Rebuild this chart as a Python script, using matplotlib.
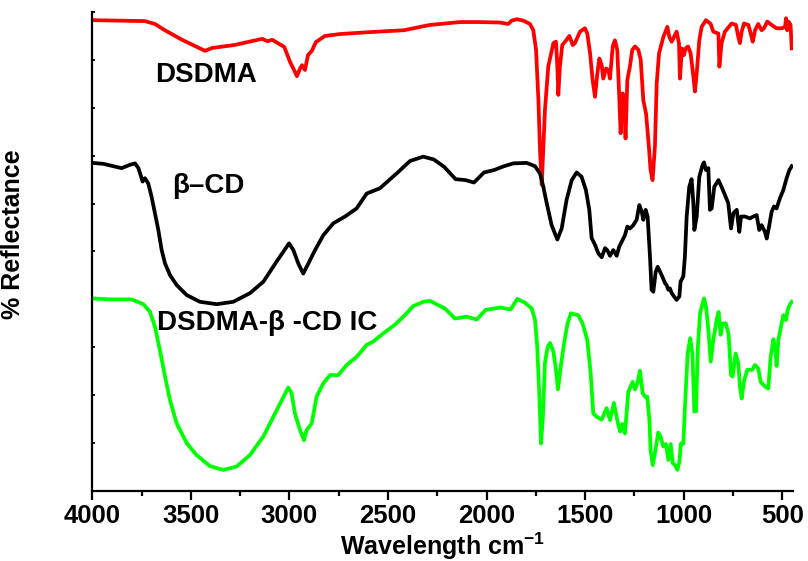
import numpy as np
import matplotlib
matplotlib.use("Agg")
import matplotlib.pyplot as plt
from matplotlib.ticker import MultipleLocator, NullFormatter

plt.rcParams['font.family'] = ['Liberation Sans', 'DejaVu Sans']
plt.rcParams['font.weight'] = 'bold'
plt.rcParams['mathtext.fontset'] = 'custom'
plt.rcParams['mathtext.rm'] = 'Liberation Sans:bold'
plt.rcParams['mathtext.bf'] = 'Liberation Sans:bold'
plt.rcParams['mathtext.default'] = 'bf'

# FTIR spectra: wavenumber (cm-1) and reflectance (arbitrary %, offset per sample)
wn_dsdma = [4000, 3733, 3682, 3632, 3540, 3428, 3391, 3280, 3138, 3112, 3087, 3026,
            2997, 2972, 2962, 2947, 2936, 2921, 2906, 2886, 2866, 2820, 2744, 2592,
            2419, 2287, 2135, 2034, 1932, 1890, 1873, 1847, 1813, 1780, 1763, 1749,
            1737, 1729, 1720, 1704, 1687, 1661, 1648, 1641, 1636, 1628, 1616, 1594,
            1580, 1563, 1552, 1526, 1501, 1489, 1475, 1462, 1450, 1438, 1428, 1416,
            1408, 1394, 1382, 1374, 1360, 1349, 1337, 1327, 1320, 1310, 1303, 1295,
            1286, 1273, 1261, 1247, 1230, 1218, 1205, 1191, 1178, 1168, 1158, 1146,
            1137, 1125, 1103, 1083, 1073, 1061, 1049, 1036, 1024, 1019, 1009, 999,
            990, 978, 965, 951, 943, 934, 921, 909, 887, 863, 850, 824, 819, 808,
            791, 757, 735, 723, 715, 706, 694, 672, 660, 650, 638, 622, 605, 593,
            576, 554, 529, 503, 486, 481, 475, 468, 458, 452]
r_dsdma = [98.3, 98.1, 97.5, 96.2, 94.1, 91.9, 92.5, 93.1, 94.4, 93.9, 94.2, 92.7,
           89.6, 87.5, 86.6, 88.1, 88.9, 87.9, 91.0, 91.9, 93.7, 95.0, 95.4, 95.8,
           96.2, 97.3, 97.9, 97.9, 97.8, 97.5, 98.2, 98.5, 98.2, 97.5, 96.2, 92.1,
           81.6, 71.2, 63.9, 79.5, 88.6, 93.5, 93.8, 88.6, 82.7, 88.6, 93.1, 94.2,
           95.0, 93.1, 93.5, 95.9, 96.6, 95.5, 91.4, 85.8, 82.3, 87.2, 90.3, 88.9,
           86.1, 88.2, 87.9, 86.1, 92.8, 94.1, 92.1, 82.3, 74.7, 83.0, 82.3, 73.6,
           85.8, 88.6, 92.1, 92.8, 92.1, 90.0, 81.6, 78.8, 72.6, 67.0, 64.9, 71.9,
           85.1, 91.4, 94.8, 96.9, 94.8, 93.8, 94.8, 95.9, 93.5, 86.1, 92.4, 91.0,
           92.4, 92.8, 91.4, 86.5, 83.4, 87.2, 94.1, 96.9, 98.3, 97.5, 95.9, 95.5, 88.6, 93.5,
           95.9, 97.6, 97.3, 94.8, 93.5, 95.9, 97.6, 97.3, 95.5, 93.8, 96.2, 97.5, 96.2, 96.6,
           98.0, 97.3, 96.6, 96.6, 96.9, 98.7, 96.2, 98.0, 97.3, 92.4]

wn_bcd = [3998, 3944, 3893, 3851, 3809, 3783, 3766, 3755, 3745, 3733, 3716, 3699,
          3682, 3665, 3648, 3631, 3606, 3572, 3521, 3454, 3369, 3285, 3200, 3132,
          3065, 3002, 2980, 2955, 2930, 2904, 2870, 2828, 2777, 2718, 2659, 2608,
          2541, 2456, 2388, 2321, 2267, 2216, 2157, 2106, 2064, 2013, 1962, 1912,
          1864, 1797, 1754, 1729, 1712, 1695, 1670, 1641, 1619, 1594, 1568, 1543,
          1518, 1496, 1479, 1467, 1450, 1433, 1416, 1399, 1388, 1374, 1357, 1340,
          1327, 1310, 1298, 1286, 1273, 1256, 1239, 1225, 1213, 1205, 1193, 1183,
          1171, 1163, 1154, 1142, 1132, 1120, 1109, 1095, 1087, 1078, 1070, 1061,
          1049, 1036, 1022, 1016, 1002, 994, 985, 972, 960, 951, 946, 934, 921,
          904, 897, 887, 875, 867, 858, 845, 824, 808, 791, 774, 760, 748, 731,
          718, 709, 689, 664, 647, 630, 617, 605, 588, 579, 567, 554, 542, 529,
          512, 495, 478, 464, 452]
r_bcd = [68.5, 68.3, 67.8, 67.4, 68.1, 68.4, 67.4, 66.0, 64.6, 65.3, 64.2, 61.4,
         58.0, 54.5, 50.3, 47.5, 45.1, 43.0, 40.9, 39.5, 39.0, 39.5, 41.3, 43.7,
         47.9, 51.7, 50.3, 47.5, 45.4, 47.5, 50.3, 53.4, 55.9, 57.3, 59.0, 62.1,
         63.2, 66.3, 68.9, 69.8, 69.2, 67.7, 65.1, 64.9, 64.4, 66.5, 67.0, 67.8,
         68.4, 68.5, 67.8, 66.3, 63.5, 60.1, 55.5, 52.5, 54.8, 60.8, 64.9, 66.5,
         65.6, 62.8, 58.7, 52.8, 51.4, 49.6, 48.8, 50.7, 50.3, 49.1, 50.3, 49.1,
         51.0, 52.4, 53.4, 55.2, 54.8, 55.5, 56.6, 59.7, 58.3, 56.6, 58.7, 57.3,
         48.9, 42.0, 41.6, 45.8, 46.8, 45.8, 44.8, 43.4, 43.0, 42.0, 42.3, 41.3,
         40.6, 39.9, 40.6, 43.7, 44.8, 48.9, 57.3, 63.5, 65.1, 60.1, 54.5, 57.3, 65.6,
         68.1, 68.6, 67.0, 67.4, 58.7, 59.0, 63.5, 64.9, 63.5, 61.8, 60.1, 54.8, 58.0, 58.7,
         54.1, 57.3, 57.3, 56.9, 57.3, 57.6, 54.5, 55.5, 54.1, 52.7, 55.2, 58.3, 59.4, 59.0,
         61.1, 62.8, 65.3, 67.0, 67.8]

wn_ic = [3998, 3910, 3800, 3741, 3707, 3682, 3657, 3631, 3606, 3572, 3521, 3471,
         3403, 3335, 3268, 3200, 3132, 3073, 3006, 2989, 2972, 2946, 2926, 2913,
         2887, 2862, 2828, 2794, 2752, 2710, 2659, 2608, 2575, 2524, 2465, 2422,
         2372, 2321, 2287, 2245, 2211, 2160, 2101, 2050, 2005, 1929, 1878, 1844,
         1805, 1771, 1754, 1743, 1732, 1724, 1715, 1704, 1690, 1678, 1661, 1648,
         1638, 1624, 1607, 1589, 1572, 1535, 1513, 1489, 1472, 1459, 1442, 1416,
         1391, 1374, 1354, 1337, 1323, 1311, 1298, 1281, 1259, 1247, 1235, 1222,
         1208, 1196, 1185, 1174, 1168, 1157, 1146, 1129, 1117, 1104, 1090, 1078,
         1066, 1056, 1044, 1032, 1022, 1014, 1002, 992, 980, 967, 956, 946, 938,
         928, 917, 904, 897, 887, 875, 863, 850, 833, 823, 813, 802, 786, 772,
         760, 752, 737, 723, 715, 706, 693, 677, 652, 639, 622, 610, 588, 571,
         559, 545, 535, 529, 520, 508, 495, 481, 473, 461, 452]
r_ic = [40.2, 40.0, 40.0, 39.0, 37.4, 34.3, 29.4, 23.9, 19.0, 14.1, 10.0, 7.5,
        5.2, 4.4, 5.1, 7.5, 11.4, 16.2, 21.6, 20.4, 16.2, 12.7, 10.6, 12.7,
        14.1, 19.7, 22.5, 24.2, 24.2, 26.3, 28.0, 30.5, 31.2, 32.9, 34.7, 36.4,
        38.6, 39.5, 39.7, 38.8, 38.1, 36.0, 36.4, 35.8, 37.8, 38.3, 37.9, 40.1,
        39.3, 38.1, 35.7, 30.1, 19.7, 9.9, 14.8, 26.7, 30.1, 30.9, 29.1, 25.3,
        21.2, 25.9, 30.8, 35.0, 37.1, 36.7, 35.0, 31.5, 24.6, 16.2, 15.5, 14.9,
        17.3, 14.8, 18.4, 14.8, 12.4, 14.0, 12.0, 20.7, 22.8, 21.2, 22.5, 25.1,
        20.4, 19.7, 19.7, 14.8, 8.6, 5.4, 7.9, 12.2, 11.3, 9.3, 9.8, 6.5,
        9.8, 5.8, 5.4, 4.4, 6.1, 9.9, 9.9, 19.0, 28.7, 31.9, 28.7, 16.6, 16.6,
        30.1, 37.1, 39.2, 40.2, 38.5, 33.6, 27.0, 31.5, 35.7, 37.4, 32.6, 35.0, 35.0, 32.6,
        24.2, 23.9, 28.7, 26.7, 21.8, 19.3, 23.2, 25.3, 25.3, 26.3, 25.6, 22.8, 21.8, 21.4,
        28.0, 31.7, 29.4, 26.1, 31.5, 34.0, 36.7, 35.7, 37.8, 39.0, 39.5]

x_major = np.arange(500, 4001, 500)
x_tick_labels = [str(v) for v in x_major]

fig = plt.figure(figsize=(8.08, 5.61), dpi=100)
ax = fig.add_axes([0.1142, 0.1248, 0.8669, 0.8538])

ax.plot(wn_dsdma, r_dsdma, color='#ff0000', lw=2.7, solid_joinstyle='round')
ax.plot(wn_bcd, r_bcd, color='#000000', lw=2.7, solid_joinstyle='round')
ax.plot(wn_ic, r_ic, color='#00ff00', lw=2.7, solid_joinstyle='round')

ax.set_xlim(4000, 447)
ax.set_ylim(0, 100)

for side in ('top', 'right'):
    ax.spines[side].set_visible(False)
for side in ('left', 'bottom'):
    ax.spines[side].set_linewidth(1.6)

ax.set_xticks(x_major)
ax.set_xticklabels(x_tick_labels)
ax.xaxis.set_minor_locator(MultipleLocator(250))
ax.tick_params(axis='x', which='major', direction='out', length=6.3, width=1.6,
               labelsize=18.5, pad=3)
ax.tick_params(axis='x', which='minor', direction='out', length=3.9, width=1.6)
ax.set_yticks(np.arange(0, 101, 10))
ax.yaxis.set_major_formatter(NullFormatter())
ax.tick_params(axis='y', which='major', direction='in', length=2.2, width=1.3)

ax.set_xlabel(r'Wavelength cm$^{-1}$', fontsize=18, fontweight='bold')
ax.xaxis.set_label_coords(0.5, -0.082)
ax.set_ylabel('% Reflectance', fontsize=18, fontweight='bold')
ax.yaxis.set_label_coords(-0.096, 0.537)

ax.text(3682, 85.4, 'DSDMA', fontsize=20, fontweight='bold', ha='left', va='baseline')
ax.text(3596, 62.2, 'β–CD', fontsize=20, fontweight='bold', ha='left', va='baseline')
ax.text(3672, 33.6, 'DSDMA-β -CD IC', fontsize=20, fontweight='bold', ha='left', va='baseline')

fig.savefig('out.png', dpi=100)
